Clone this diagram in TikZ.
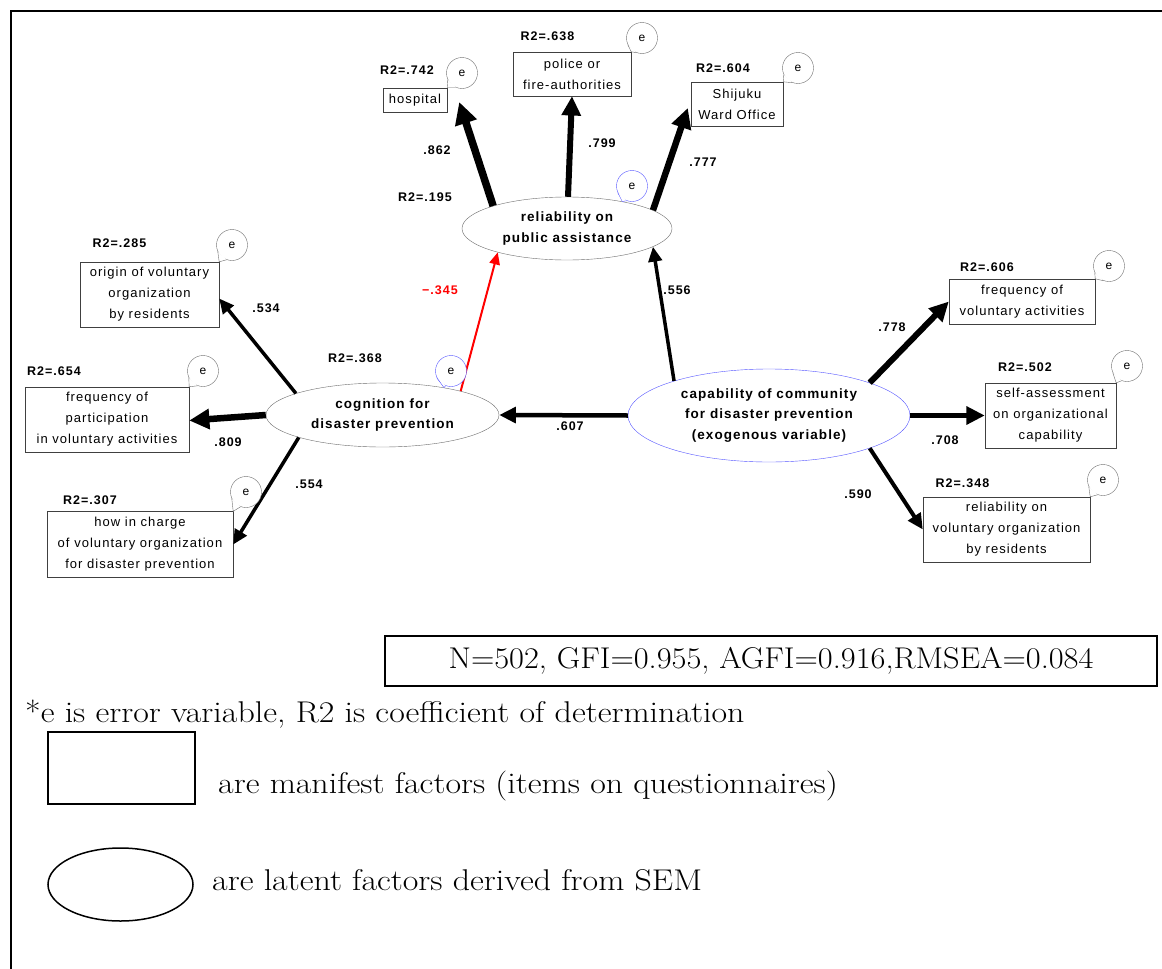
\documentclass[tikz,border=0pt]{standalone}
\usepackage{fontspec}
\usepackage{graphicx}
\usepackage{tikz}
\usetikzlibrary{arrows.meta,shapes.geometric,calc}
\newfontfamily\gothic[LetterSpace=8]{Liberation Sans}
\newcommand{\widetxt}[2][1.13]{\scalebox{#1}[1]{#2}}
\definecolor{ebl}{RGB}{85,85,255}
\definecolor{egr}{RGB}{110,110,110}
\tikzset{manifest/.style={draw=black!75,rectangle,align=center,inner sep=1pt,font=\gothic\fontsize{13}{21}\selectfont},
  latent/.style={draw=egr,ellipse,inner sep=0pt,align=center,font=\gothic\bfseries\fontsize{13.5}{20.5}\selectfont},
  exo/.style={latent,draw=ebl},
  rsq/.style={inner sep=0pt,font=\gothic\bfseries\fontsize{12.5}{14}\selectfont},
  ebub/.style={circle,draw=egr,fill=white,minimum size=31pt,inner sep=0pt,font=\gothic\fontsize{12}{14}\selectfont},
  pth/.style={->,>={Triangle[length=8.5pt 1.8,width=6.5pt 2]},line width=#1},
  legend/.style={inner sep=0pt,font=\fontsize{30}{36}\selectfont}}

\begin{document}
\begin{tikzpicture}[x=1pt,y=-1pt]

\useasboundingbox[fill=white] (0,0) rectangle (1162,969);
\draw[line width=2pt] (11,969) -- (11,11) -- (1162,11);

% Latent factors
\node[latent,minimum width=210,minimum height=63] (pub) at (567,228.5) {reliability on\\public assistance};
\node[latent,minimum width=233,minimum height=64] (cog) at (382.5,415) {cognition for\\disaster prevention};
\node[exo,minimum width=282,minimum height=93] (cap) at (769,415.5) {capability of community\\for disaster prevention\\(exogenous variable)};

% Manifest factors
\node[manifest,minimum width=64,minimum height=24] (hospital) at (415,100) {hospital};
\node[manifest,minimum width=118,minimum height=44] (police) at (572,74) {police or\\fire-authorities};
\node[manifest,minimum width=92,minimum height=44] (shijuku) at (737,104) {Shijuku\\Ward Office};
\node[manifest,minimum width=139,minimum height=65] (origin) at (149.5,294.5) {origin of voluntary\\organization\\by residents};
\node[manifest,minimum width=164,minimum height=65] (freqpart) at (107,419.5) {frequency of\\participation\\in voluntary activities};
\node[manifest,minimum width=186,minimum height=66] (howcharge) at (140,544.5) {how in charge\\of voluntary organization\\for disaster prevention};
\node[manifest,minimum width=146,minimum height=45] (freqvol) at (1022,301.5) {frequency of\\voluntary activities};
\node[manifest,minimum width=131,minimum height=65] (selfassess) at (1050.5,415.5) {self-assessment\\on organizational\\capability};
\node[manifest,minimum width=167,minimum height=65] (relvol) at (1006.5,529.5) {reliability on\\voluntary organization\\by residents};

% Paths
\draw[pth=7.5pt] (pub.163) -- ([xshift=12pt,yshift=-2pt]hospital.east);
\draw[pth=6pt] ([xshift=1pt]pub.north) -- (police.south);
\draw[pth=6.5pt] (pub.12) -- ([xshift=-3pt,yshift=-4pt]shijuku.west);
\draw[pth=3.5pt] (cap.160) -- (pub.-12);
\draw[pth=2pt,red] (cog.17) -- (pub.199);
\draw[pth=4.5pt] (cap.west) -- (cog.east);
\draw[pth=3.5pt] (cog.166) -- ([yshift=-4pt]origin.east);
\draw[pth=6.5pt] (cog.west) -- ([yshift=-1pt]freqpart.east);
\draw[pth=3.5pt] (cog.195) -- (howcharge.east);
\draw[pth=6pt] (cap.18) -- (freqvol.west);
\draw[pth=5.5pt] (cap.east) -- (selfassess.west);
\draw[pth=4pt] (cap.-18) -- (relvol.west);

% Coefficients
\node[rsq] (c-hosp) at (437,150) {.862};
\node[rsq] (c-pol) at (602,143) {.799};
\node[rsq] (c-shi) at (703,162) {.777};
\node[rsq,red] (c-cog-pub) at (440,290) {−.345};
\node[rsq] (c-cap-pub) at (677,290) {.556};
\node[rsq] (c-orig) at (266,308) {.534};
\node[rsq] (c-fpart) at (228,442) {.809};
\node[rsq] (c-how) at (309,484) {.554};
\node[rsq] (c-cap-cog) at (570,426) {.607};
\node[rsq] (c-fvol) at (892,327) {.778};
\node[rsq] (c-self) at (945,440) {.708};
\node[rsq] (c-rvol) at (858,494) {.590};

% R2 labels
\node[rsq] (r-hosp) at (407,70) {R2=.742};
\node[rsq] (r-pol) at (547.5,36) {R2=.638};
\node[rsq] (r-shi) at (723,68) {R2=.604};
\node[rsq] (r-pub) at (425,197) {R2=.195};
\node[rsq] (r-orig) at (119.5,243) {R2=.285};
\node[rsq] (r-fpart) at (54,371) {R2=.654};
\node[rsq] (r-how) at (90,500) {R2=.307};
\node[rsq] (r-cog) at (355,358) {R2=.368};
\node[rsq] (r-fvol) at (987,267) {R2=.606};
\node[rsq] (r-self) at (1025,367) {R2=.502};
\node[rsq] (r-rvol) at (962.5,483) {R2=.348};

% Error variables
\node[ebub] (e-hosp) at (462,73) {e};
\node[ebub] (e-pol) at (642,38) {e};
\node[ebub] (e-shi) at (798,68) {e};
\node[ebub,draw=ebl] (e-pub) at (632,186) {e};
\node[ebub] (e-orig) at (232,245) {e};
\node[ebub] (e-fpart) at (203,371) {e};
\node[ebub] (e-how) at (246,492) {e};
\node[ebub,draw=ebl] (e-cog) at (451,371) {e};
\node[ebub] (e-fvol) at (1109,266) {e};
\node[ebub] (e-self) at (1127,366) {e};
\node[ebub] (e-rvol) at (1103,480) {e};
\foreach \b/\t/\c in {e-hosp/hospital.north east/egr,e-pol/police.north east/egr,e-shi/shijuku.north east/egr,
  e-pub/pub.26/ebl,e-orig/origin.north east/egr,e-fpart/freqpart.north east/egr,e-how/howcharge.north east/egr,
  e-cog/cog.24/ebl,e-fvol/freqvol.north east/egr,e-self/selfassess.north east/egr,e-rvol/relvol.north east/egr}
  \draw[draw=\c,fill=white] (\b.250) -- (\t) -- (\b.205);

% Fit and legend
\node[legend,draw,line width=2pt,minimum width=772,minimum height=50] (fit) at (771,661) {\widetxt[1.08]{N=502, GFI=0.955, AGFI=0.916,RMSEA=0.084}};
\node[legend,anchor=base west] (note) at (25,722) {\widetxt{*e is error variable, R2 is coefficient of determination}};
\node[draw,line width=1.5pt,minimum width=147,minimum height=72,inner sep=0pt] (leg-box) at (121.5,768) {};
\node[draw,ellipse,line width=1.5pt,minimum width=145,minimum height=73,inner sep=0pt] (leg-ell) at (120.5,884.5) {};
\node[legend,anchor=base west] (leg-box-txt) at (218,793) {\widetxt{are manifest factors (items on questionnaires)}};
\node[legend,anchor=base west] (leg-ell-txt) at (212,890) {\widetxt{are latent factors derived from SEM}};

\end{tikzpicture}
\end{document}
